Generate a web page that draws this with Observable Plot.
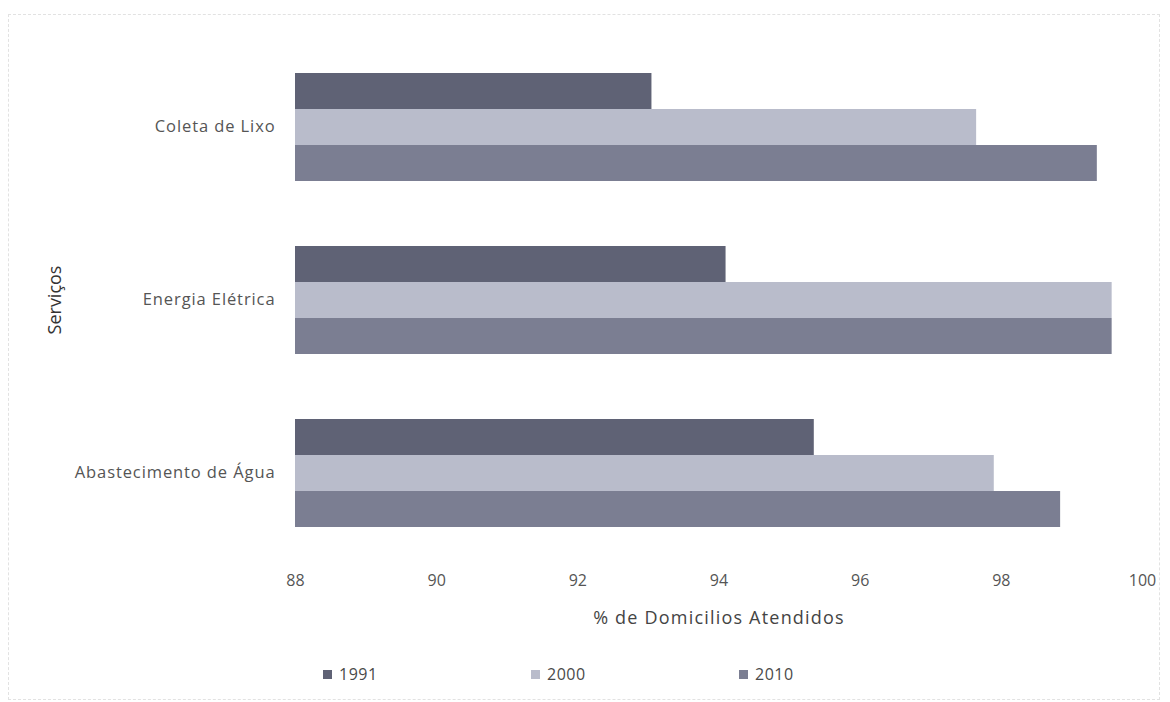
<!DOCTYPE html>
<html>
<head>
<meta charset="utf-8">
<script src="https://cdn.jsdelivr.net/npm/d3@7"></script>
<script src="https://cdn.jsdelivr.net/npm/@observablehq/plot@0.6"></script>
<style>
  body { margin: 0; background: #fff; font-family: "Open Sans", sans-serif; }
  #wrap { position: relative; width: 1170px; height: 702px; }
  #frame { position: absolute; left: 8px; top: 14px; width: 1152px; height: 686px;
           border: 1px dashed #e2e2e2; box-sizing: border-box; pointer-events: none; }
  #legend { position: absolute; top: 663px; left: 0; width: 1170px; height: 24px;
            font-size: 16px; color: #4a4a4a; letter-spacing: 0.5px; }
  .item { position: absolute; display: flex; align-items: center; gap: 7px; }
  .sw { width: 9px; height: 9px; display: inline-block; }
  g[aria-label="fy-axis tick label"] text { font-size: 16.5px; letter-spacing: 0.9px; fill: #555; }
  g[aria-label="x-axis tick label"] text { font-size: 16px; fill: #555; }
  g[aria-label="x-axis label"] text { font-size: 18px; letter-spacing: 1.2px; fill: #444; }
  g[aria-label="fy-axis label"] text { font-size: 18px; fill: #333; }
</style>
</head>
<body>
<div id="wrap">
  <div id="frame"></div>
  <div id="chart"></div>
  <div id="legend"></div>
</div>
<script>
// Services (top to bottom) and census years
const services = ["Coleta de Lixo", "Energia Elétrica", "Abastecimento de Água"];
const years = ["1991", "2000", "2010"];

// % of households served, per year, in the order of `services`
const values1991 = [93.05, 94.1, 95.35];
const values2000 = [97.65, 99.57, 97.9];
const values2010 = [99.36, 99.57, 98.84];

const xTicks = [88, 90, 92, 94, 96, 98, 100];
const yearColors = ["#5f6275", "#b9bccb", "#7b7e92"];

const seriesByYear = [values1991, values2000, values2010];
const rows = years.flatMap((year, i) =>
  services.map((service, j) => ({service, year, value: seriesByYear[i][j]}))
);

const chart = Plot.plot({
  width: 1170,
  height: 650,
  marginLeft: 295,
  marginRight: 28,
  marginTop: 40,
  marginBottom: 91,
  style: {fontFamily: "Open Sans, sans-serif", fontSize: "14px", color: "#555", background: "transparent"},
  x: {domain: [88, 100], ticks: xTicks, tickSize: 0, tickPadding: 47,
      label: "% de Domicilios Atendidos", labelArrow: "none", labelAnchor: "center", labelOffset: 96},
  fy: {domain: services, paddingInner: 0.37, paddingOuter: 0.185,
       label: "Serviços", labelAnchor: "center", labelOffset: 247, tickSize: 0, tickPadding: 20},
  y: {domain: years, padding: 0, axis: null},
  color: {domain: years, range: yearColors},
  marks: [
    Plot.barX(rows, {
      fy: "service",
      y: "year",
      x1: 88,
      x2: "value",
      fill: "year"
    })
  ]
});
document.getElementById("chart").appendChild(chart);

// Legend below the plot
const legendX = [323, 531, 739];
const legend = document.getElementById("legend");
years.forEach((year, i) => {
  const item = document.createElement("div");
  item.className = "item";
  item.style.left = legendX[i] + "px";
  const sw = document.createElement("span");
  sw.className = "sw";
  sw.style.background = yearColors[i];
  const label = document.createElement("span");
  label.textContent = year;
  item.appendChild(sw);
  item.appendChild(label);
  legend.appendChild(item);
});
</script>
</body>
</html>
